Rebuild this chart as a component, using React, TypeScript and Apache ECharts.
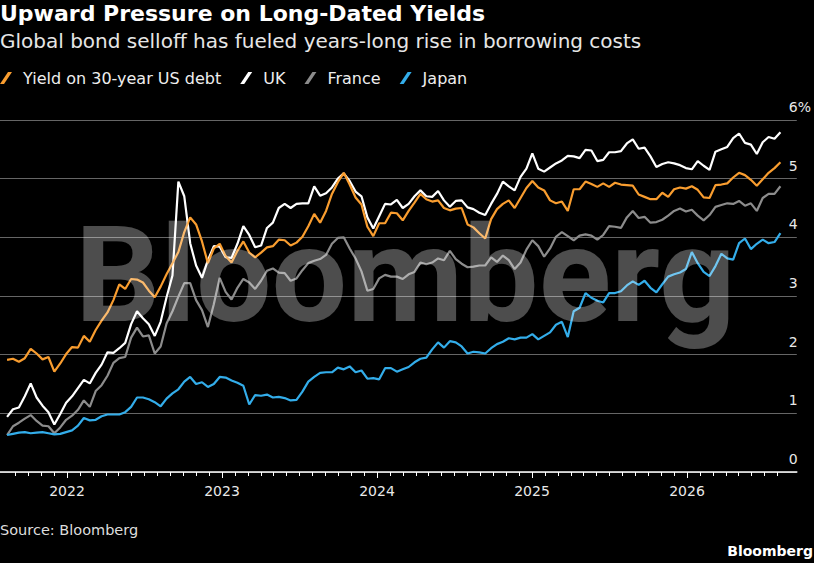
import React, { useEffect, useRef } from "react";
import * as echarts from "echarts";

// ---- data (bi-weekly samples, starting 2021-08-13) ----
const START_DATE = Date.UTC(2021, 7, 13);
const STEP_DAYS = 14;

const US = [
  1.91, 1.93, 1.88, 1.94, 2.10, 2.02, 1.92, 1.96, 1.71, 1.85,
  2.01, 2.13, 2.12, 2.32, 2.22, 2.42, 2.58, 2.72, 2.93, 3.20,
  3.12, 3.29, 3.28, 3.23, 3.09, 2.98, 3.16, 3.37, 3.56, 3.75,
  4.09, 4.34, 4.22, 3.93, 3.56, 3.81, 3.89, 3.68, 3.57, 3.77,
  3.93, 3.74, 3.66, 3.74, 3.83, 3.85, 3.96, 3.95, 3.86, 3.91,
  4.01, 4.19, 4.40, 4.25, 4.45, 4.74, 4.94, 5.10, 4.90, 4.68,
  4.56, 4.18, 4.02, 4.24, 4.24, 4.42, 4.41, 4.29, 4.45, 4.59,
  4.74, 4.65, 4.61, 4.63, 4.50, 4.46, 4.49, 4.50, 4.22, 4.17,
  4.07, 3.98, 4.31, 4.48, 4.57, 4.63, 4.50, 4.67, 4.84, 4.96,
  4.85, 4.80, 4.63, 4.58, 4.61, 4.45, 4.82, 4.82, 4.95, 4.91,
  4.86, 4.92, 4.86, 4.93, 4.90, 4.89, 4.88, 4.73, 4.69, 4.65,
  4.65, 4.76, 4.69, 4.82, 4.85, 4.83, 4.87, 4.81, 4.68, 4.67,
  4.89, 4.90, 4.92, 5.02, 5.10, 5.06, 4.98, 4.88, 4.99, 5.10,
  5.18, 5.28,
];

const UK = [
  0.94, 1.07, 1.10, 1.29, 1.51, 1.27, 1.13, 1.02, 0.81, 0.99,
  1.18, 1.29, 1.43, 1.57, 1.51, 1.69, 1.83, 2.04, 2.03, 2.11,
  2.20, 2.52, 2.74, 2.62, 2.52, 2.32, 2.56, 2.98, 3.35, 4.95,
  4.70, 3.90, 3.52, 3.31, 3.61, 3.85, 3.84, 3.66, 3.65, 3.89,
  4.19, 4.04, 3.83, 3.86, 4.16, 4.25, 4.50, 4.57, 4.50, 4.57,
  4.58, 4.58, 4.87, 4.71, 4.75, 4.85, 5.00, 5.09, 4.96, 4.78,
  4.70, 4.34, 4.15, 4.36, 4.57, 4.56, 4.64, 4.50, 4.57, 4.70,
  4.80, 4.70, 4.69, 4.79, 4.63, 4.52, 4.62, 4.63, 4.51, 4.48,
  4.42, 4.38, 4.57, 4.74, 4.95, 4.87, 4.80, 5.03, 5.17, 5.43,
  5.17, 5.12, 5.19, 5.26, 5.31, 5.39, 5.38, 5.35, 5.49, 5.48,
  5.30, 5.32, 5.45, 5.45, 5.47, 5.60, 5.67, 5.51, 5.53, 5.38,
  5.20, 5.25, 5.28, 5.26, 5.23, 5.18, 5.16, 5.30, 5.22, 5.15,
  5.46, 5.50, 5.54, 5.69, 5.77, 5.61, 5.58, 5.42, 5.62, 5.71,
  5.68, 5.79,
];

const FRANCE = [
  0.63, 0.78, 0.84, 0.91, 0.97, 0.87, 0.79, 0.78, 0.66, 0.76,
  0.89, 0.96, 1.06, 1.22, 1.11, 1.38, 1.48, 1.64, 1.86, 1.94,
  1.96, 2.29, 2.46, 2.31, 2.33, 2.02, 2.14, 2.53, 2.74, 2.99,
  3.22, 3.22, 2.93, 2.76, 2.47, 2.86, 3.31, 3.07, 2.94, 3.14,
  3.29, 3.23, 3.12, 3.26, 3.43, 3.47, 3.40, 3.39, 3.26, 3.30,
  3.44, 3.56, 3.60, 3.63, 3.70, 3.89, 3.99, 4.00, 3.81, 3.64,
  3.42, 3.09, 3.12, 3.30, 3.36, 3.33, 3.33, 3.29, 3.37, 3.41,
  3.57, 3.54, 3.57, 3.64, 3.61, 3.77, 3.63, 3.55, 3.49, 3.50,
  3.52, 3.52, 3.66, 3.58, 3.69, 3.61, 3.46, 3.57, 3.79, 3.95,
  3.85, 3.67, 3.81, 4.01, 4.09, 4.02, 3.95, 4.03, 4.05, 4.03,
  3.96, 4.04, 4.19, 4.18, 4.16, 4.34, 4.45, 4.33, 4.35, 4.25,
  4.26, 4.30, 4.37, 4.45, 4.49, 4.44, 4.47, 4.37, 4.29, 4.38,
  4.52, 4.55, 4.58, 4.57, 4.62, 4.54, 4.58, 4.45, 4.67, 4.74,
  4.74, 4.87,
];

const JAPAN = [
  0.63, 0.65, 0.67, 0.68, 0.66, 0.67, 0.68, 0.66, 0.64, 0.65,
  0.68, 0.71, 0.79, 0.92, 0.88, 0.89, 0.95, 0.98, 0.98, 0.98,
  1.02, 1.11, 1.27, 1.27, 1.24, 1.19, 1.12, 1.25, 1.34, 1.41,
  1.54, 1.62, 1.50, 1.53, 1.45, 1.50, 1.62, 1.61, 1.56, 1.52,
  1.47, 1.15, 1.31, 1.30, 1.32, 1.27, 1.28, 1.26, 1.22, 1.23,
  1.37, 1.54, 1.62, 1.69, 1.70, 1.70, 1.78, 1.75, 1.80, 1.70,
  1.73, 1.59, 1.60, 1.58, 1.77, 1.77, 1.71, 1.75, 1.79, 1.87,
  1.93, 1.95, 2.09, 2.21, 2.12, 2.23, 2.21, 2.14, 2.02, 2.05,
  2.04, 2.02, 2.11, 2.18, 2.22, 2.28, 2.26, 2.29, 2.29, 2.35,
  2.26, 2.32, 2.38, 2.51, 2.56, 2.30, 2.74, 2.80, 3.05, 2.97,
  2.92, 2.89, 3.05, 3.05, 3.08, 3.18, 3.25, 3.19, 3.26, 3.14,
  3.06, 3.20, 3.33, 3.37, 3.40, 3.46, 3.75, 3.56, 3.41, 3.34,
  3.51, 3.72, 3.64, 3.62, 3.90, 3.98, 3.80, 3.89, 3.96, 3.90,
  3.92, 4.07,
];

const SERIES_NAMES = ["Yield on 30-year US debt", "UK", "France", "Japan"];
const YEAR_TICKS = [2022, 2026]; // first and last labelled year
const Y_MIN = 0;
const Y_MAX = 6;

// ---- layout ----
const W = 814;
const H = 563;
const PLOT_TOP = 120;
const PLOT_BOTTOM = 472;
const PLOT_RIGHT = 802;
const X_2022 = 67; // pixel of 1 Jan 2022
const PX_PER_YEAR = 155;

const COLORS = {
  us: "#f99d2f",
  uk: "#ffffff",
  fr: "#8c8c8c",
  jp: "#33adea",
};

const FONT = "'DejaVu Sans'";

function toYearFrac(ms: number) {
  const d = new Date(ms);
  const y = d.getUTCFullYear();
  const s = Date.UTC(y, 0, 1);
  const e = Date.UTC(y + 1, 0, 1);
  return y + (ms - s) / (e - s);
}

const X_VALUES = US.map((_, i) => toYearFrac(START_DATE + i * STEP_DAYS * 86400000));
const pair = (arr: number[]) => arr.map((v, i) => [X_VALUES[i], v]);

const yearToPx = (y: number) => X_2022 + (y - 2022) * PX_PER_YEAR;
const pxToYear = (px: number) => 2022 + (px - X_2022) / PX_PER_YEAR;

export default function App() {
  const ref = useRef<HTMLDivElement>(null);

  useEffect(() => {
    if (!ref.current) return;
    const chart = echarts.init(ref.current, undefined, { renderer: "svg" });

    const plotH = PLOT_BOTTOM - PLOT_TOP;
    const axMin = pxToYear(0);
    const axMax = pxToYear(PLOT_RIGHT);
    // monthly tick axis: Sep 2021 .. Aug 2026 in months
    const monthStart = YEAR_TICKS[0] - 4 / 12;
    const monthCount = (YEAR_TICKS[1] + 7 / 12 - monthStart) * 12;
    const monthLeft = yearToPx(monthStart);
    const monthWidth = (monthCount / 12) * PX_PER_YEAR;

    const lineSeries = (name: string, data: number[], color: string, z: number) => ({
      name,
      type: "line",
      xAxisIndex: 0,
      yAxisIndex: 0,
      data: pair(data),
      showSymbol: false,
      symbol: "none",
      silent: true,
      z,
      color,
      lineStyle: { color, width: 2.2 },
      itemStyle: { color },
    });

    const option: any = {
      animation: false,
      backgroundColor: "#000000",
      textStyle: { fontFamily: FONT },
      grid: [
        { left: 0, top: PLOT_TOP, width: PLOT_RIGHT, height: plotH },
        { left: monthLeft, top: PLOT_TOP, width: monthWidth, height: plotH },
        {
          left: yearToPx(YEAR_TICKS[0]),
          top: PLOT_TOP,
          width: (YEAR_TICKS[1] - YEAR_TICKS[0]) * PX_PER_YEAR,
          height: plotH,
        },
      ],
      xAxis: [
        {
          gridIndex: 0,
          type: "value",
          min: axMin,
          max: axMax,
          axisLine: { show: true, lineStyle: { color: "#ffffff", width: 1.5 } },
          axisTick: { show: false },
          axisLabel: { show: false },
          splitLine: { show: false },
        },
        {
          gridIndex: 1,
          type: "value",
          min: 0,
          max: monthCount,
          interval: 1,
          axisLine: { show: false },
          axisTick: { show: true, length: 4, lineStyle: { color: "#ffffff", width: 1 } },
          axisLabel: { show: false },
          splitLine: { show: false },
        },
        {
          gridIndex: 2,
          type: "value",
          min: YEAR_TICKS[0],
          max: YEAR_TICKS[1],
          interval: 1,
          axisLine: { show: false },
          axisTick: { show: true, length: 6, lineStyle: { color: "#ffffff", width: 1 } },
          axisLabel: {
            show: true,
            margin: 12,
            color: "#e8e8e8",
            fontSize: 14,
            fontFamily: FONT,
            formatter: (v: number) => String(v),
          },
          splitLine: { show: false },
        },
      ],
      yAxis: [
        {
          gridIndex: 0,
          type: "value",
          position: "right",
          min: Y_MIN,
          max: Y_MAX,
          interval: 1,
          axisLine: { show: false },
          axisTick: { show: false },
          splitLine: { show: true, lineStyle: { color: "#666666", width: 1 } },
          axisLabel: {
            inside: false,
            margin: -8,
            align: "left",
            verticalAlign: "bottom",
            padding: [0, 0, 5, 0],
            lineHeight: 16,
            color: "#e8e8e8",
            fontSize: 14,
            fontFamily: FONT,
            formatter: (v: number) => (v === Y_MAX ? `${v}%` : String(v)),
          },
        },
        { gridIndex: 1, type: "value", show: false, min: 0, max: 1 },
        { gridIndex: 2, type: "value", show: false, min: 0, max: 1 },
      ],
      legend: {
        left: 0,
        top: 70,
        padding: 0,
        itemGap: 19,
        itemWidth: 12,
        itemHeight: 12,
        selectedMode: false,
        icon: "path://M0,12 L4,12 L12,0 L8,0 Z",
        data: SERIES_NAMES,
        textStyle: {
          color: "#eeeeee",
          fontSize: 16,
          fontFamily: FONT,
          padding: [0, 0, 0, 6],
        },
      },
      series: [
        lineSeries(SERIES_NAMES[2], FRANCE, COLORS.fr, 2),
        lineSeries(SERIES_NAMES[3], JAPAN, COLORS.jp, 3),
        lineSeries(SERIES_NAMES[1], UK, COLORS.uk, 4),
        lineSeries(SERIES_NAMES[0], US, COLORS.us, 5),
      ],
      graphic: [
        {
          type: "text",
          x: 0,
          y: 13,
          style: {
            text: "Upward Pressure on Long-Dated Yields",
            fill: "#ffffff",
            font: `bold 22px ${FONT}`,
            verticalAlign: "middle",
          },
        },
        {
          type: "text",
          x: 0,
          y: 41,
          style: {
            text: "Global bond selloff has fueled years-long rise in borrowing costs",
            fill: "#e6e6e6",
            font: `20px ${FONT}`,
            verticalAlign: "middle",
          },
        },
        {
          type: "text",
          x: 75,
          y: 275,
          z: 100,
          silent: true,
          style: {
            text: "Bloomberg",
            fill: "rgba(255,255,255,0.3)",
            font: "bold 134px Roboto",
            verticalAlign: "middle",
          },
        },
        {
          type: "text",
          x: 0,
          y: 529.5,
          style: {
            text: "Source: Bloomberg",
            fill: "#dddddd",
            font: `14.5px ${FONT}`,
            verticalAlign: "middle",
          },
        },
        {
          type: "text",
          x: 813,
          y: 550.5,
          style: {
            text: "Bloomberg",
            fill: "#ffffff",
            font: `bold 14px ${FONT}`,
            align: "right",
            verticalAlign: "middle",
          },
        },
      ],
    };

    chart.setOption(option);
    return () => chart.dispose();
  }, []);

  return (
    <div
      ref={ref}
      style={{ position: "fixed", left: 0, top: 0, width: W, height: H, background: "#000" }}
    />
  );
}
